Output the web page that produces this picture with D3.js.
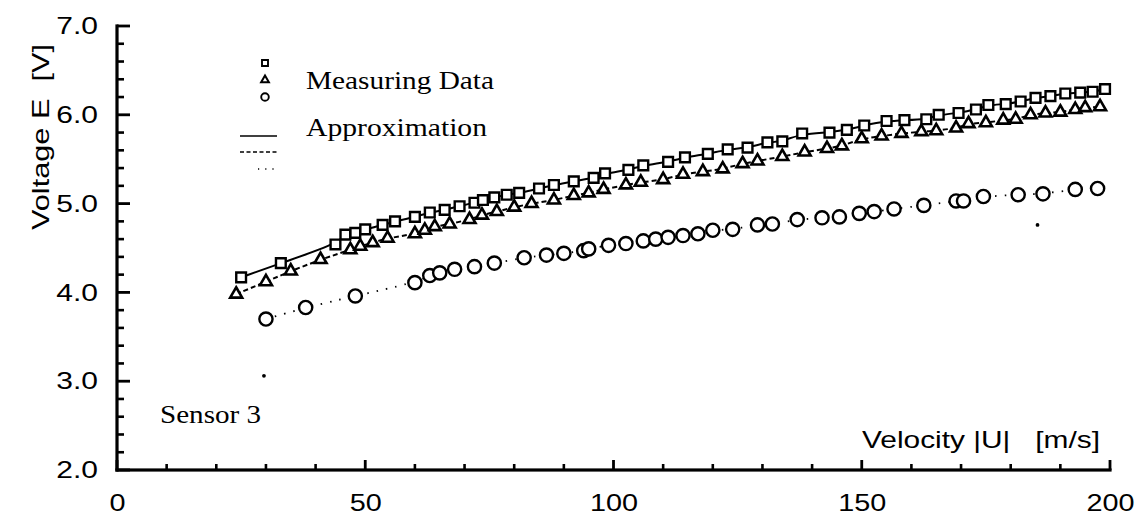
<!DOCTYPE html>
<html><head><meta charset="utf-8">
<script src="https://cdn.jsdelivr.net/npm/d3@7"></script>
<style>
html,body{margin:0;padding:0;background:#fff;}
svg{display:block;}
.sans{font-family:"Liberation Sans",Arial,Helvetica,sans-serif;}
.serif{font-family:"Liberation Serif","Times New Roman",serif;}
</style></head>
<body>
<svg id="chart" width="1139" height="522"></svg>
<script>
// ---- data ----
const sqV = [25,33,44,46,48,50,53.5,56,60,63,66,69,72,73.7,76,78.5,81,85,88,92,96,98.3,103,106,111,114.4,119,123,127,131,134,138,143.5,147,150.5,155,158.6,163,165.5,169.5,173,175.5,179,182,185,188,191,194,196.5,199];
const sqE = [4.17,4.33,4.54,4.65,4.67,4.71,4.76,4.80,4.85,4.90,4.93,4.97,5.01,5.04,5.07,5.10,5.12,5.17,5.21,5.25,5.29,5.34,5.38,5.43,5.47,5.52,5.56,5.61,5.63,5.69,5.70,5.79,5.80,5.83,5.88,5.93,5.94,5.95,6.00,6.02,6.06,6.11,6.12,6.15,6.19,6.21,6.24,6.25,6.26,6.29];
const trV = [24,30,35,41,47,49,51.5,54.5,60,62,64,67,71,73.5,76.5,80,83.5,88,92,95,98,102.5,105.5,110,114,118,122,126,129,134,138.5,143,146,150,154,158,162,165,169,171.5,175,178.5,181,184,187,190,193,195,198];
const trE = [3.98,4.12,4.24,4.37,4.48,4.52,4.56,4.61,4.66,4.70,4.74,4.77,4.82,4.87,4.91,4.96,5.00,5.04,5.09,5.12,5.16,5.21,5.24,5.27,5.33,5.36,5.39,5.45,5.48,5.53,5.58,5.62,5.65,5.73,5.76,5.79,5.81,5.82,5.85,5.90,5.91,5.94,5.95,6.00,6.02,6.03,6.06,6.08,6.09];
const ciV = [30,38,48,60,63,65,68,72,76,82,86.5,90,94,95,99,102.5,106,108.5,111,114,117,120,124,129,132,137,142,145.5,149.5,152.5,156.5,162.5,169,170.5,174.5,181.5,186.5,193,197.5];
const ciE = [3.70,3.83,3.96,4.11,4.19,4.22,4.26,4.29,4.33,4.39,4.42,4.44,4.47,4.49,4.53,4.55,4.58,4.60,4.62,4.64,4.66,4.70,4.71,4.76,4.77,4.82,4.84,4.85,4.89,4.91,4.94,4.98,5.03,5.03,5.08,5.10,5.11,5.16,5.17];
const strayV = [29.6,185.4];
const strayE = [3.06,4.76];
const xTicks = [0,50,100,150,200];
const xMinor = [10,20,30,40,60,70,80,90,110,120,130,140,160,170,180,190];
const yTicks = [2,3,4,5,6,7];
const yMinor = [2.2,2.4,2.6,2.8,3.2,3.4,3.6,3.8,4.2,4.4,4.6,4.8,5.2,5.4,5.6,5.8,6.2,6.4,6.6,6.8];
const xTitle = "Velocity |U|\u00A0\u00A0 [m/s]";
const yTitle = "Voltage E\u00A0 [V]";
const legendTexts = ["Measuring Data","Approximation"];
const noteText = "Sensor 3";

// ---- drawing ----
const svg = d3.select("#chart");
const x = d3.scaleLinear().domain([0,200]).range([117,1110]);
const y = d3.scaleLinear().domain([2,7]).range([470,26]);

function stretch(sel, f){
  sel.each(function(){
    const L = this.getComputedTextLength();
    d3.select(this).attr("textLength", L*f).attr("lengthAdjust","spacingAndGlyphs");
  });
}

// axis frame (left + bottom) and inward ticks, as filled rects
const frame = svg.append("g").attr("fill","#000");
frame.append("rect").attr("x",x(0)-1.6).attr("y",y(7)-1.6).attr("width",3.2).attr("height",y(2)-y(7)+3.2);
frame.append("rect").attr("x",x(0)-1.6).attr("y",y(2)-1.6).attr("width",x(200)-x(0)+3.2).attr("height",3.2);
frame.selectAll("rect.ym").data(yMinor).join("rect").attr("class","ym")
  .attr("x",x(0)).attr("y",d=>y(d)-1.3).attr("width",7).attr("height",2.6);
frame.selectAll("rect.yM").data(yTicks).join("rect").attr("class","yM")
  .attr("x",x(0)).attr("y",d=>y(d)-1.4).attr("width",13).attr("height",2.8);
frame.selectAll("rect.xm").data(xMinor).join("rect").attr("class","xm")
  .attr("x",d=>x(d)-1.3).attr("y",y(2)-6).attr("width",2.6).attr("height",6);
frame.selectAll("rect.xM").data(xTicks).join("rect").attr("class","xM")
  .attr("x",d=>x(d)-1.4).attr("y",y(2)-10).attr("width",2.8).attr("height",10);

// axis labels via d3 axes (domain and tick lines hidden)
const gy = svg.append("g").attr("transform",`translate(${x(0)},0)`)
  .call(d3.axisLeft(y).tickValues(yTicks).tickSize(0).tickPadding(19).tickFormat(d3.format(".1f")));
const gx = svg.append("g").attr("transform",`translate(0,${y(2)})`)
  .call(d3.axisBottom(x).tickValues(xTicks).tickSize(0).tickPadding(24).tickFormat(d3.format("d")));
[gy,gx].forEach(g=>{
  g.select(".domain").remove();
  g.selectAll(".tick line").remove();
  g.selectAll("text").attr("class","sans").attr("font-size",24).attr("fill","#000");
});
stretch(gy.selectAll("text"),1.25);
stretch(gx.selectAll("text"),1.2);

// approximation lines
const line = d3.line().x(d=>x(d[0])).y(d=>y(d[1])).curve(d3.curveBasis);
const sqData = sqV.map((v,i)=>[v,sqE[i]]);
const trData = trV.map((v,i)=>[v,trE[i]]);
const ciData = ciV.map((v,i)=>[v,ciE[i]]);
svg.append("path").datum(sqData).attr("d",line).attr("fill","none").attr("stroke","#000").attr("stroke-width",2);
svg.append("path").datum(trData).attr("d",line).attr("fill","none").attr("stroke","#000").attr("stroke-width",2).attr("stroke-dasharray","5,3");
svg.append("path").datum(ciData).attr("d",line).attr("fill","none").attr("stroke","#000").attr("stroke-width",1.8).attr("stroke-dasharray","1.5,8");

// markers
const sym = (type,size)=>d3.symbol().type(type).size(size)();
svg.append("g").selectAll("path").data(sqData).join("path")
  .attr("transform",d=>`translate(${x(d[0])},${y(d[1])})`)
  .attr("d",sym(d3.symbolSquare,95)).attr("fill","#fff").attr("stroke","#000").attr("stroke-width",2.4);
svg.append("g").selectAll("path").data(trData).join("path")
  .attr("transform",d=>`translate(${x(d[0])},${y(d[1])})`)
  .attr("d",sym(d3.symbolTriangle,62)).attr("fill","#fff").attr("stroke","#000").attr("stroke-width",2.6);
svg.append("g").selectAll("circle").data(ciData).join("circle")
  .attr("cx",d=>x(d[0])).attr("cy",d=>y(d[1])).attr("r",6.6)
  .attr("fill","#fff").attr("stroke","#000").attr("stroke-width",2.4);
svg.append("g").selectAll("circle").data(strayV.map((v,i)=>[v,strayE[i]])).join("circle")
  .attr("cx",d=>x(d[0])).attr("cy",d=>y(d[1])).attr("r",1.9).attr("fill","#000");

// legend
svg.append("path").attr("transform","translate(265,63)").attr("d",sym(d3.symbolSquare,36)).attr("fill","#fff").attr("stroke","#000").attr("stroke-width",1.9);
svg.append("path").attr("transform","translate(265,80)").attr("d",sym(d3.symbolTriangle,26)).attr("fill","#fff").attr("stroke","#000").attr("stroke-width",2);
svg.append("circle").attr("cx",265).attr("cy",97).attr("r",3.8).attr("fill","#fff").attr("stroke","#000").attr("stroke-width",1.9);
svg.append("line").attr("x1",240).attr("x2",277).attr("y1",136).attr("y2",136).attr("stroke","#000").attr("stroke-width",1.5);
svg.append("line").attr("x1",240).attr("x2",277).attr("y1",152).attr("y2",152).attr("stroke","#000").attr("stroke-width",1.5).attr("stroke-dasharray","4,2.5");
svg.append("line").attr("x1",258).attr("x2",276).attr("y1",169).attr("y2",169).attr("stroke","#000").attr("stroke-width",1.5).attr("stroke-dasharray","1.2,6");
const lt = svg.append("g").attr("class","serif").attr("font-size",26).attr("fill","#000");
lt.append("text").attr("x",306).attr("y",89).text(legendTexts[0]).attr("textLength",188).attr("lengthAdjust","spacingAndGlyphs");
lt.append("text").attr("x",306).attr("y",136).text(legendTexts[1]).attr("textLength",181).attr("lengthAdjust","spacingAndGlyphs");

// annotations
svg.append("text").attr("class","serif").attr("font-size",26).attr("fill","#000")
  .attr("x",160).attr("y",423).text(noteText).attr("textLength",101).attr("lengthAdjust","spacingAndGlyphs");
svg.append("text").attr("class","sans").attr("font-size",24).attr("fill","#000")
  .attr("x",1100).attr("y",448).attr("text-anchor","end").text(xTitle)
  .attr("textLength",238).attr("lengthAdjust","spacingAndGlyphs");
svg.append("text").attr("class","sans").attr("font-size",24).attr("fill","#000")
  .attr("transform","translate(49,137) rotate(-90)").attr("text-anchor","middle").text(yTitle)
  .attr("textLength",186).attr("lengthAdjust","spacingAndGlyphs");
</script>
</body></html>
